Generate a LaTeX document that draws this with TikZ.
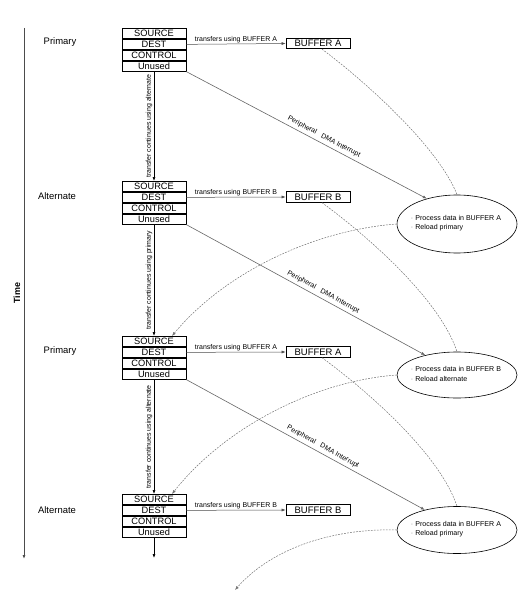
\documentclass[tikz,border=0pt]{standalone}
\usepackage{fontspec}
\setmainfont{Liberation Sans}
\usetikzlibrary{arrows.meta,shapes.geometric}
\begin{document}
\begin{tikzpicture}[x=1bp,y=-1bp,
  reg/.style={draw, line width=0.6bp, minimum width=64bp, minimum height=10.3bp, inner sep=0pt, font=\fontsize{9.3}{10}\selectfont, anchor=north},
  bufbox/.style={draw, line width=0.8bp, minimum width=64bp, minimum height=10.5bp, inner sep=0pt, font=\fontsize{9.5}{10}\selectfont},
  phase/.style={font=\fontsize{9.5}{11}\selectfont},
  procell/.style={draw, ellipse, line width=0.6bp, minimum width=120bp, inner sep=0pt},
  proctext/.style={align=left, inner sep=0pt, font=\fontsize{7.1}{9.5}\selectfont},
  tip/.style={-{Latex[length=4bp,width=3bp]}},
  xfer/.style={draw=black!70, line width=0.5bp, tip},
  xlabel/.style={font=\fontsize{7}{8}\selectfont, inner sep=1bp},
  diag/.style={draw=black!60, line width=0.6bp, tip},
  dashcurve/.style={draw=black!55, line width=0.5bp, dash pattern=on 1.8bp off 1.2bp},
  vlabel/.style={font=\fontsize{7}{8}\selectfont, rotate=90, anchor=south, inner sep=1.5bp},
  vflow/.style={draw=black, line width=0.6bp, tip}
]
\useasboundingbox (0,0) rectangle (531,599);

% time axis
\coordinate (t0) at (24,28);
\coordinate (t1) at (24,559);
\draw[draw=black!70, line width=0.8bp, tip] (t0) -- (t1);
\node[font=\bfseries\fontsize{9}{10}\selectfont, rotate=90] (time) at (17,293) {Time};

% phase labels
\node[phase] (p1) at (60,42) {Primary};
\node[phase] (p2) at (57,196) {Alternate};
\node[phase] (p3) at (60,351) {Primary};
\node[phase] (p4) at (57,510) {Alternate};

% register blocks
\foreach \i/\y in {1/28,2/181,3/336,4/494}{
  \node[reg] (s\i) at (154,\y) {SOURCE};
  \node[reg] (d\i) at (s\i.south) {DEST};
  \node[reg] (c\i) at (d\i.south) {CONTROL};
  \node[reg] (u\i) at (c\i.south) {Unused};
}

% buffers
\node[bufbox] (b1) at (318,43.5) {BUFFER A};
\node[bufbox] (b2) at (318,197) {BUFFER B};
\node[bufbox] (b3) at (318,352) {BUFFER A};
\node[bufbox] (b4) at (318,510) {BUFFER B};

% processing ellipses
\node[procell, minimum height=58bp] (e1) at (457,224) {};
\node[procell, minimum height=46bp] (e2) at (457,375) {};
\node[procell, minimum height=47bp] (e3) at (457,530) {};
\node[proctext] (e1t) at (456,223) {{\color{black!55}·} Process data in BUFFER A\\{\color{black!55}·} Reload primary};
\node[proctext] (e2t) at (456,374) {{\color{black!55}·} Process data in BUFFER B\\{\color{black!55}·} Reload alternate};
\node[proctext] (e3t) at (456,529) {{\color{black!55}·} Process data in BUFFER A\\{\color{black!55}·} Reload primary};

% transfers to buffers
\draw[xfer] (d1.east) -- (b1.west) node[midway, above, xlabel] {transfers using BUFFER A};
\draw[xfer] (d2.east) -- (b2.west) node[midway, above, xlabel] {transfers using BUFFER B};
\draw[xfer] (d3.east) -- (b3.west) node[midway, above, xlabel] {transfers using BUFFER A};
\draw[xfer] (d4.east) -- (b4.west) node[midway, above, xlabel] {transfers using BUFFER B};

% vertical flow
\draw[vflow] (u1.south) -- (s2.north) node[midway, vlabel] {transfer continues using alternate};
\draw[vflow] (u2.south) -- (s3.north) node[midway, vlabel] {transfer continues using primary};
\draw[vflow] (u3.south) -- (s4.north) node[midway, vlabel] {transfer continues using alternate};
\coordinate (vend) at (154,558);
\draw[vflow] (u4.south) -- (vend);

% interrupts
\draw[diag] (u1.south east) -- (e1.140) node[pos=0.56, sloped, above, xlabel, inner sep=3bp] {Peripheral\ \ \ DMA Interrupt};
\draw[diag] (u2.south east) -- (e2.148) node[pos=0.56, sloped, above, xlabel, inner sep=3bp] {Peripheral\ \ \ DMA Interrupt};
\draw[diag] (u3.south east) -- (e3.148) node[pos=0.56, sloped, above, xlabel, inner sep=3bp] {Peripheral\ \ \ DMA Interrupt};

% dashed: buffer to processing
\draw[dashcurve] ([xshift=4bp]b1.south) .. controls (370,85) and (440,150) .. (e1.north);
\draw[dashcurve] ([xshift=4bp]b2.south) .. controls (370,238) and (440,300) .. (e2.north);
\draw[dashcurve] ([xshift=4bp]b3.south) .. controls (370,393) and (440,455) .. (e3.north);

% dashed: reload back to registers
\draw[dashcurve, tip] (e1.west) .. controls (315,230) and (225,272) .. ([xshift=18bp]s3.north);
\draw[dashcurve, tip] (e2.west) .. controls (315,381) and (225,427) .. ([xshift=18bp]s4.north);
\coordinate (dend) at (235,590);
\draw[dashcurve, tip] (e3.west) .. controls (330,528) and (270,550) .. (dend);
\end{tikzpicture}
\end{document}
